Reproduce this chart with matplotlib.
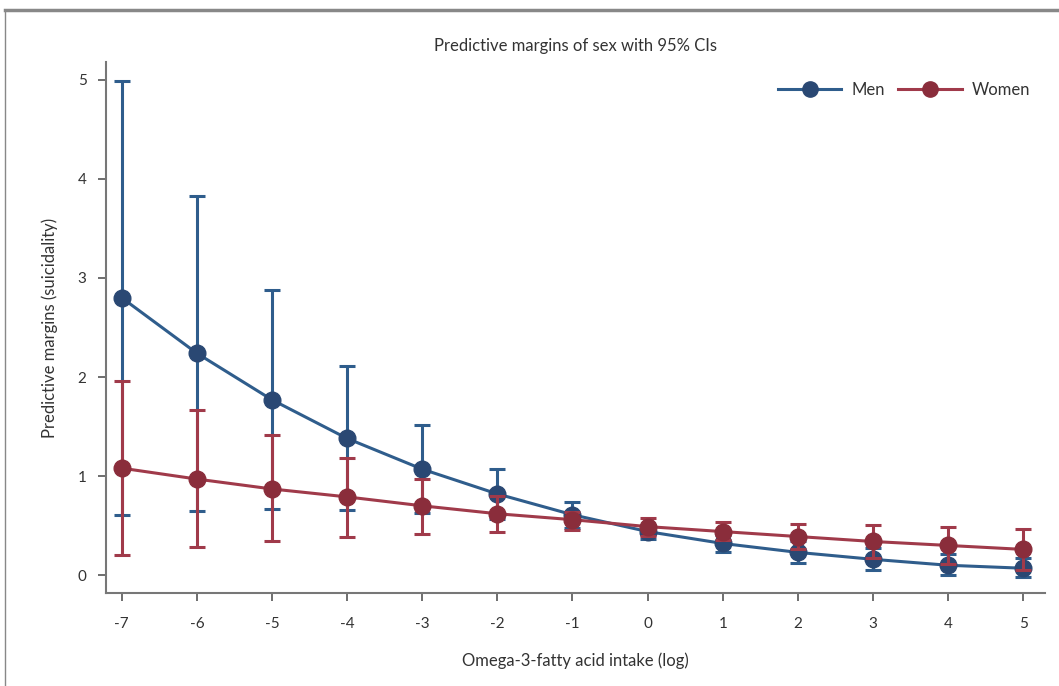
import matplotlib
matplotlib.use("Agg")
import matplotlib.pyplot as plt
from matplotlib.lines import Line2D

x = [-7, -6, -5, -4, -3, -2, -1, 0, 1, 2, 3, 4, 5]
men = [2.80, 2.24, 1.77, 1.38, 1.07, 0.82, 0.61, 0.44, 0.32, 0.23, 0.16, 0.10, 0.07]
men_lo = [0.61, 0.65, 0.67, 0.66, 0.63, 0.57, 0.48, 0.37, 0.23, 0.12, 0.05, 0.00, -0.02]
men_hi = [4.99, 3.83, 2.88, 2.11, 1.52, 1.07, 0.74, 0.51, 0.41, 0.34, 0.27, 0.21, 0.17]
women = [1.08, 0.97, 0.87, 0.79, 0.70, 0.62, 0.56, 0.49, 0.44, 0.39, 0.34, 0.30, 0.26]
women_lo = [0.20, 0.28, 0.34, 0.39, 0.42, 0.44, 0.46, 0.40, 0.35, 0.26, 0.17, 0.11, 0.05]
women_hi = [1.96, 1.67, 1.41, 1.18, 0.97, 0.80, 0.64, 0.58, 0.54, 0.52, 0.51, 0.49, 0.47]
xticks = [-7, -6, -5, -4, -3, -2, -1, 0, 1, 2, 3, 4, 5]
yticks = [0, 1, 2, 3, 4, 5]

plt.rcParams['font.family'] = ['Lato', 'DejaVu Sans']

fig = plt.figure(figsize=(10.59, 6.86), dpi=100)
ax = fig.add_axes([106/1059, 1-593/686, (1045-106)/1059, (593-62)/686])

men_c = '#2a4873'
men_l = '#2f5d8c'
wom_c = '#8a2d3b'
wom_l = '#a03a4a'

def series(vals, lo, hi, mc, lc, z):
    yerr = [[v - l for v, l in zip(vals, lo)], [h - v for v, h in zip(vals, hi)]]
    ax.errorbar(x, vals, yerr=yerr, fmt='none', ecolor=lc, elinewidth=2.2,
                capsize=6, capthick=2.2, zorder=z)
    ax.plot(x, vals, '-', color=lc, lw=2.2, zorder=z + 0.5)
    ax.plot(x, vals, 'o', color=mc, ms=12, zorder=z + 1)

series(men, men_lo, men_hi, men_c, men_l, 2)
series(women, women_lo, women_hi, wom_c, wom_l, 3)

ax.set_xlim(-7.21, 5.29)
ax.set_ylim(-0.18, 5.18)
ax.set_xticks(xticks)
ax.set_xticklabels([str(t) for t in xticks])
ax.set_yticks(yticks)
ax.set_yticklabels([str(t) for t in yticks])
for s in ['top', 'right']:
    ax.spines[s].set_visible(False)
for s in ['left', 'bottom']:
    ax.spines[s].set_color('#777777')
    ax.spines[s].set_linewidth(1.5)
ax.tick_params(axis='both', colors='#555555', labelcolor='#333333', labelsize=11,
               length=6, width=1.2)
ax.tick_params(axis='x', pad=11)
ax.tick_params(axis='y', pad=8)

ax.set_xlabel('Omega-3-fatty acid intake (log)', fontsize=12, color='#333333', labelpad=16)
ax.set_ylabel('Predictive margins (suicidality)', fontsize=12, color='#333333', labelpad=14)
ax.set_title('Predictive margins of sex with 95% CIs', fontsize=12, color='#333333', pad=8)

handles = [Line2D([], [], color=men_l, lw=2.2, marker='o', ms=11, mfc=men_c, mec=men_c),
           Line2D([], [], color=wom_l, lw=2.2, marker='o', ms=11, mfc=wom_c, mec=wom_c)]
ax.legend(handles, ['Men', 'Women'], loc='upper right', ncol=2, frameon=False,
          fontsize=12, handlelength=3.8, columnspacing=0.8, handletextpad=0.6,
          bbox_to_anchor=(1.0, 0.99), labelcolor='#333333')

# figure frame lines (top and left)
fig.add_artist(Line2D([5/1059, 1], [1-10/686, 1-10/686], color='#888888', lw=2.5,
                      transform=fig.transFigure))
fig.add_artist(Line2D([5/1059, 5/1059], [0, 1-10/686], color='#888888', lw=1.0,
                      transform=fig.transFigure))

fig.savefig('out.png', dpi=100)
